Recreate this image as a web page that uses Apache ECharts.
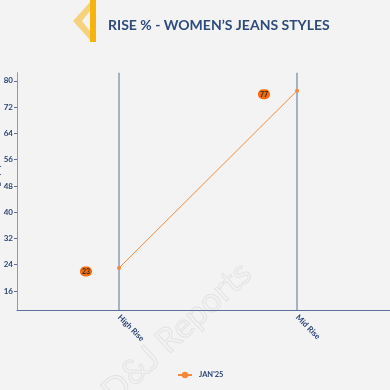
<!DOCTYPE html>
<html>
<head>
<meta charset="utf-8">
<script src="https://cdn.jsdelivr.net/npm/echarts@6/dist/echarts.min.js"></script>
<style>
html,body{margin:0;padding:0;background:#f3f3f3;}
#chart{width:390px;height:390px;}
</style>
</head>
<body>
<div id="chart"></div>
<script>
const categories = ['High Rise', 'Mid Rise'];
const seriesName = "JAN'25";
const values = [23, 77];
const yTicks = [16, 24, 32, 40, 48, 56, 64, 72, 80];

const chart = echarts.init(document.getElementById('chart'), null, {renderer: 'canvas'});
const navy = '#2c4474';
const orange = '#f5883a';
const catIdx = categories.map((c, i) => i);

const option = {
  backgroundColor: '#f3f3f3',
  animation: false,
  title: {
    text: 'RISE % - WOMEN\u2019S JEANS STYLES',
    left: 103, top: 13,
    textStyle: {fontFamily: 'Lato', fontWeight: 'bold', fontSize: 14, color: '#2e4b7c'}
  },
  graphic: [
    {type: 'text', left: 95, top: 255, rotation: Math.PI/4.2, silent: true,
     style: {text: 'D&J Reports', fontSize: 34, fontFamily: 'Lato', fill: 'rgba(0,0,0,0)', stroke: 'rgba(180,180,180,0.25)', lineWidth: 1}},
    {type: 'polygon', silent: true,
     shape: {points: [[90,2],[73,21],[90,40],[90,31],[82,21],[90,11]]},
     style: {fill: '#f7d27e'}},
    {type: 'rect', silent: true, shape: {x: 90, y: 0, width: 6, height: 42}, style: {fill: '#f6b30c'}}
  ],
  grid: {left: 17, right: 0, top: 72.7, bottom: 80, containLabel: false, outerBoundsMode: 'none'},
  legend: {
    bottom: 6, left: 172,
    itemWidth: 14, itemHeight: 8, itemGap: 6,
    textStyle: {fontFamily: 'Lato', fontWeight: 'bold', fontSize: 7.5, color: navy, padding: [0, 0, 0, 2]},
    data: [seriesName]
  },
  xAxis: {
    type: 'value',
    min: -0.573, max: 1.522,
    axisLine: {show: true, onZero: false, lineStyle: {color: '#5a6f9c', width: 1}},
    axisTick: {show: false, customValues: catIdx},
    splitLine: {show: true, customValues: catIdx, lineStyle: {color: '#a8b1c4', width: 2}},
    axisLabel: {
      rotate: -45, margin: 6,
      customValues: catIdx,
      fontFamily: 'Lato', fontWeight: 'bold', fontSize: 8, color: navy,
      formatter: function (v) { return categories[Math.round(v)] || ''; }
    }
  },
  yAxis: {
    type: 'value',
    min: 10.2, max: 82.5,
    name: 'Percentage (%)', nameLocation: 'middle', nameGap: 15.5, nameMoveOverlap: false,
    nameTextStyle: {fontFamily: 'Lato', fontWeight: 'bold', fontSize: 8, color: navy},
    axisLine: {show: true, onZero: false, lineStyle: {color: '#8a9abb', width: 1}},
    axisTick: {show: true, length: 3, customValues: yTicks, lineStyle: {color: '#5a6f9c'}},
    splitLine: {show: false},
    axisLabel: {
      margin: 4, customValues: yTicks,
      fontFamily: 'Lato', fontWeight: 'bold', fontSize: 8, color: navy
    }
  },
  series: [{
    name: seriesName,
    type: 'line',
    data: values.map((v, i) => [i, v]),
    symbol: 'circle', symbolSize: 4,
    lineStyle: {color: orange, width: 1},
    itemStyle: {color: orange},
    label: {
      show: true, position: 'left', distance: 25, offset: [0, 3.5],
      fontFamily: 'Lato', fontWeight: 'bold', fontSize: 7, color: '#3a2a1a',
      backgroundColor: '#f26b0f', borderRadius: 5, padding: [2, 2, 1, 2]
    }
  }]
};
chart.setOption(option);
</script>
</body>
</html>
